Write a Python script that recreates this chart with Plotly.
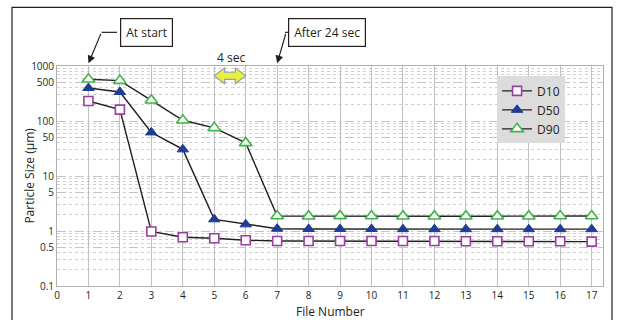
import plotly.graph_objects as go

file_number = list(range(1, 18))
d10 = [231, 161, 0.98, 0.77, 0.74, 0.68, 0.66, 0.66, 0.66, 0.66, 0.66, 0.66, 0.65, 0.65, 0.65, 0.65, 0.64]
d50 = [398, 337, 62, 30.5, 1.63, 1.32, 1.1, 1.09, 1.09, 1.09, 1.08, 1.08, 1.08, 1.08, 1.08, 1.08, 1.08]
d90 = [573, 542, 238, 103, 75, 40, 1.87, 1.86, 1.88, 1.87, 1.86, 1.86, 1.86, 1.86, 1.86, 1.87, 1.87]
y_tickvals = [0.1, 0.5, 1, 5, 10, 50, 100, 500, 1000]
y_ticktext = ["0.1", "0.5", "1", "5", "10", "50", "100", "500", "1000"]
x_tickvals = list(range(0, 18))

FONT = "Open Sans"
fig = go.Figure()

series = [
    ("D10", d10, dict(symbol="square", size=9, color="white", line=dict(color="#9b3ea3", width=1.6))),
    ("D50", d50, dict(symbol="triangle-up", size=10, color="#1f3d96", line=dict(color="#1f3d96", width=1))),
    ("D90", d90, dict(symbol="triangle-up", size=11, color="white", line=dict(color="#3db54a", width=1.6))),
]
for name, vals, mk in series:
    fig.add_trace(go.Scatter(x=file_number, y=vals, name=name, mode="lines+markers",
                             line=dict(color="#231f20", width=1.4), marker=mk))

fig.update_layout(
    width=617, height=320,
    margin=dict(l=57, r=14, t=66, b=34, autoexpand=False),
    paper_bgcolor="white", plot_bgcolor="white",
    font=dict(family=FONT, size=11, color="#231f20"),
    showlegend=True,
    legend=dict(x=0.806, y=0.953, xanchor="left", yanchor="top",
                bgcolor="#dcdcdc", font=dict(size=12, family=FONT),
                itemwidth=30, tracegroupgap=0,
                borderwidth=0),
)
fig.update_xaxes(
    range=[0, 17.36], tickvals=x_tickvals, tickfont=dict(size=10),
    showgrid=True, gridcolor="#c0c0c0", gridwidth=1, automargin=False,
    showline=True, linecolor="#b0b0b0", mirror=True, zeroline=False,
    ticks="",
)
fig.update_yaxes(
    type="log", range=[-1, 3], tickvals=y_tickvals, ticktext=y_ticktext,
    tickfont=dict(size=10), automargin=False,
    showgrid=True, gridcolor="#c4c4c4", gridwidth=1, griddash="dash",
    minor=dict(dtick="D1", showgrid=True, gridcolor="#d0d0d0", griddash="dot", gridwidth=1),
    showline=True, linecolor="#b0b0b0", mirror=True, zeroline=False,
    ticks="",
)

# axis titles
fig.add_annotation(xref="paper", yref="paper", x=0.5, y=-0.118, yanchor="middle", text="File Number",
                   showarrow=False, font=dict(size=12, family=FONT))
fig.add_annotation(xref="paper", yref="paper", x=-0.052, y=0.5, xanchor="center", yanchor="middle",
                   text="Particle Size (μm)", textangle=-90, showarrow=False, font=dict(size=12, family=FONT))

# outer frame
fig.add_shape(type="rect", xref="paper", yref="paper", x0=-0.0824, x1=1.0165, y0=-0.3, y1=1.2665,
              line=dict(color="#231f20", width=1.2), fillcolor="rgba(0,0,0,0)", layer="above")

# callout boxes
fig.add_annotation(xref="x", yref="paper", x=2.86, y=1.153, yanchor="middle", xanchor="center",
                   text="At start", showarrow=False,
                   bordercolor="#231f20", borderwidth=1.2, borderpad=5, bgcolor="white",
                   font=dict(size=12, family=FONT))
fig.add_annotation(xref="x", yref="paper", x=8.6, y=1.153, yanchor="middle", xanchor="center",
                   text="After 24 sec", showarrow=False,
                   bordercolor="#231f20", borderwidth=1.2, borderpad=5, bgcolor="white",
                   font=dict(size=12, family=FONT))
# bent arrows: horizontal segment + arrow
fig.add_shape(type="line", xref="paper", yref="paper", x0=0.0819, x1=0.1099, y0=1.153, y1=1.153,
              line=dict(color="#231f20", width=1.2))
fig.add_annotation(xref="x", yref="paper", x=1.0, y=1.012, ax=13, ay=-31,
                   text="", showarrow=True, arrowhead=2, arrowsize=1.3, arrowwidth=1.2, arrowcolor="#231f20")
fig.add_shape(type="line", xref="paper", yref="paper", x0=0.4176, x1=0.4396, y0=1.153, y1=1.153,
              line=dict(color="#231f20", width=1.2))
fig.add_annotation(xref="x", yref="paper", x=7.0, y=1.012, ax=9, ay=-31,
                   text="", showarrow=True, arrowhead=2, arrowsize=1.3, arrowwidth=1.2, arrowcolor="#231f20")

# 4 sec double arrow
fig.add_annotation(xref="x", yref="paper", x=5.53, y=1.04, yanchor="middle", xanchor="center",
                   text="4 sec", showarrow=False, font=dict(size=12, family=FONT))
yc, hh, sh = 0.9555, 0.036, 0.016
xl, xr, hl = 5.0, 6.0, 0.33
path = (f"M {xl},{yc} L {xl+hl},{yc+hh} L {xl+hl},{yc+sh} L {xr-hl},{yc+sh} L {xr-hl},{yc+hh} "
        f"L {xr},{yc} L {xr-hl},{yc-hh} L {xr-hl},{yc-sh} L {xl+hl},{yc-sh} L {xl+hl},{yc-hh} Z")
fig.add_shape(type="path", xref="x", yref="paper", path=path,
              fillcolor="#eaef3c", line=dict(color="#8fa3b0", width=1.2))

fig.write_html("out.html", config={"displayModeBar": False},
               post_script="document.body.style.margin='0px';")
